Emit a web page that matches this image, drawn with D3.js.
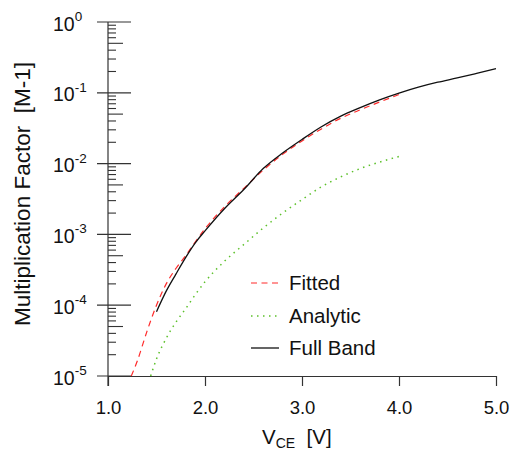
<!DOCTYPE html>
<html>
<head>
<script src="https://d3js.org/d3.v7.min.js"></script>
<style>
  body { margin: 0; background: #fff; }
  text { font-family: "Liberation Sans", Arial, Helvetica, sans-serif; fill: #111; }
</style>
</head>
<body>
<svg id="svg" width="513" height="450"></svg>
<script>
// values
const fullBandV = [1.5, 1.6, 1.7, 1.8, 1.9, 2.0, 2.2, 2.4, 2.6, 2.8, 3.0, 3.2, 3.4, 3.6, 3.8, 4.0, 4.2, 4.4, 4.6, 4.8, 5.0];
const fullBandM = [8.1e-5, 1.58e-4, 2.75e-4, 4.7e-4, 7.6e-4, 1.12e-3, 2.3e-3, 4.3e-3, 8.5e-3, 0.0141, 0.0219, 0.0331, 0.0468, 0.0617, 0.0794, 0.0989, 0.120, 0.141, 0.162, 0.188, 0.219];

const fittedV = [1.24, 1.3, 1.4, 1.5, 1.6, 1.7, 1.8, 2.0, 2.2, 2.4, 2.6, 2.8, 3.0, 3.2, 3.4, 3.6, 3.8, 4.0];
const fittedM = [1.0e-5, 1.6e-5, 4.2e-5, 1.0e-4, 2.0e-4, 3.3e-4, 5.0e-4, 1.2e-3, 2.45e-3, 4.47e-3, 8.1e-3, 0.0135, 0.0209, 0.0309, 0.0437, 0.0575, 0.0741, 0.0944];

const analyticV = [1.44, 1.5, 1.6, 1.7, 1.8, 1.9, 2.0, 2.2, 2.4, 2.6, 2.8, 3.0, 3.2, 3.4, 3.6, 3.8, 4.0];
const analyticM = [1.0e-5, 1.74e-5, 3.4e-5, 5.75e-5, 8.9e-5, 1.41e-4, 2.14e-4, 4.17e-4, 7.2e-4, 1.23e-3, 2.0e-3, 3.1e-3, 4.7e-3, 6.5e-3, 8.5e-3, 0.0105, 0.0126];

const xTicks = [1, 2, 3, 4, 5];
const yExps = [0, -1, -2, -3, -4, -5];

const series = [
  { name: "Fitted", xs: fittedV, ys: fittedM, color: "#ff2a2a", dash: "6,4.5", w: 1.2 },
  { name: "Analytic", xs: analyticV, ys: analyticM, color: "#5cc02a", dash: "1.5,4.5", w: 1.5 },
  { name: "Full Band", xs: fullBandV, ys: fullBandM, color: "#111", dash: null, w: 1.3 }
];

const svg = d3.select("#svg");
const axisColor = "#333";

const x = d3.scaleLinear().domain([1, 5]).range([108, 496]);
const y = d3.scaleLog().domain([1e-5, 1]).range([376, 22]);

// x axis
const xAxis = d3.axisBottom(x).tickValues(xTicks).tickSize(10).tickSizeOuter(0).tickFormat(d3.format(".1f"));
const gx = svg.append("g").attr("transform", "translate(0,376)").call(xAxis);
gx.select(".domain").attr("stroke", axisColor).attr("stroke-width", 1.2);
gx.selectAll(".tick line").attr("stroke", axisColor).attr("stroke-width", 1.2);
gx.selectAll(".tick text").attr("font-size", 18.5).attr("dy", "1.35em")
  .attr("font-family", "Liberation Sans, Arial, sans-serif").attr("fill", "#111");

// y axis
const gy = svg.append("g");
gy.append("line").attr("x1", 108).attr("x2", 108).attr("y1", 22).attr("y2", 386)
  .attr("stroke", axisColor).attr("stroke-width", 1.2);

yExps.forEach(e => {
  const yy = y(Math.pow(10, e));
  gy.append("line").attr("x1", 97).attr("x2", 131).attr("y1", yy).attr("y2", yy)
    .attr("stroke", axisColor).attr("stroke-width", 1.2);
  const t = gy.append("text").attr("x", 53).attr("y", yy + 8.5).attr("font-size", 19.5);
  t.append("tspan").text("10");
  t.append("tspan").attr("font-size", 13.5).attr("dy", -9.5).text(e);
  if (e > -5) {
    for (let m = 2; m <= 9; m++) {
      const my = y(m * Math.pow(10, e - 1));
      gy.append("line").attr("x1", 108).attr("x2", m === 5 ? 123 : 116)
        .attr("y1", my).attr("y2", my)
        .attr("stroke", axisColor).attr("stroke-width", 1.1);
    }
  }
});

// curves
const line = d3.line().x(d => x(d[0])).y(d => y(d[1])).curve(d3.curveMonotoneX);
series.forEach(s => {
  const pts = s.xs.map((v, i) => [v, s.ys[i]]);
  svg.append("path").datum(pts).attr("d", line)
    .attr("fill", "none").attr("stroke", s.color).attr("stroke-width", s.w)
    .attr("stroke-dasharray", s.dash);
});

// legend
const legY = [283, 316, 348];
series.forEach((s, i) => {
  svg.append("line").attr("x1", 251).attr("x2", 279).attr("y1", legY[i]).attr("y2", legY[i])
    .attr("stroke", s.color).attr("stroke-width", s.w).attr("stroke-dasharray", s.dash);
  svg.append("text").attr("x", 289).attr("y", legY[i] + 7).attr("font-size", 20.5).text(s.name);
});

// axis titles
svg.append("text").attr("transform", "translate(30,194) rotate(-90)")
  .attr("text-anchor", "middle").attr("font-size", 22.5).attr("xml:space", "preserve")
  .text("Multiplication Factor  [M-1]");

const xt = svg.append("text").attr("x", 262).attr("y", 444).attr("font-size", 20.5)
  .attr("xml:space", "preserve");
xt.append("tspan").text("V");
xt.append("tspan").attr("font-size", 14).attr("dy", 4).text("CE");
xt.append("tspan").attr("dy", -4).text("  [V]");
</script>
</body>
</html>
